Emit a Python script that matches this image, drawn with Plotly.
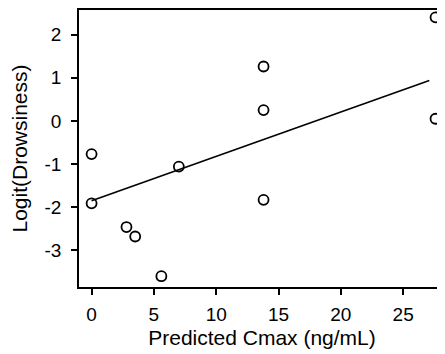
import plotly.graph_objects as go

cmax = [0.0, 0.0, 2.8, 3.5, 5.6, 7.0, 13.8, 13.8, 13.8, 27.6, 27.6]
logit_drowsiness = [-0.77, -1.91, -2.46, -2.68, -3.60, -1.06, 1.26, 0.25, -1.83, 2.40, 0.05]

# Model line
fit_intercept = -1.85
fit_slope = 0.1027
fit_x = [0.0, 27.1]
fit_y = [fit_intercept + fit_slope * x for x in fit_x]

x_ticks = [0, 5, 10, 15, 20, 25]
y_ticks = [-3, -2, -1, 0, 1, 2]
y_tick_labels = ["-3", "-2", "-1", "0", "1", "2"]

FONT = "Liberation Sans, Arial, sans-serif"

fig = go.Figure()
fig.add_trace(go.Scatter(x=fit_x, y=fit_y, mode="lines",
                         line=dict(color="black", width=1.6), showlegend=False))
fig.add_trace(go.Scatter(x=cmax, y=logit_drowsiness, mode="markers", cliponaxis=False,
                         marker=dict(symbol="circle-open", size=10, color="black",
                                     line=dict(width=1.8, color="black")),
                         showlegend=False))

fig.update_layout(
    width=437, height=346,
    margin=dict(l=71, r=0, t=2, b=67, autoexpand=False),
    plot_bgcolor="white", paper_bgcolor="white",
    font=dict(family=FONT, color="black"),
    xaxis=dict(range=[-1.01, 28.36], tickvals=x_ticks, ticks="outside", ticklen=6,
               tickwidth=1.5, tickcolor="black", showline=True, linecolor="black",
               linewidth=1.8, mirror=True, showgrid=False, zeroline=False,
               ticklabelstandoff=3, automargin=False,
               tickfont=dict(size=19, family=FONT),
               title=dict(text="Predicted Cmax (ng/mL)", font=dict(size=21, family=FONT),
                          standoff=7)),
    yaxis=dict(range=[-3.85, 2.57], tickvals=y_ticks, ticktext=y_tick_labels,
               ticks="outside", ticklen=6,
               tickwidth=1.5, tickcolor="black", showline=True, linecolor="black",
               linewidth=1.8, showgrid=False, zeroline=False,
               ticklabelstandoff=6, automargin=False,
               tickfont=dict(size=19, family=FONT),
               title=dict(text="Logit(Drowsiness)", font=dict(size=21, family=FONT),
                          standoff=12)),
)

fig.write_html("out.html")
